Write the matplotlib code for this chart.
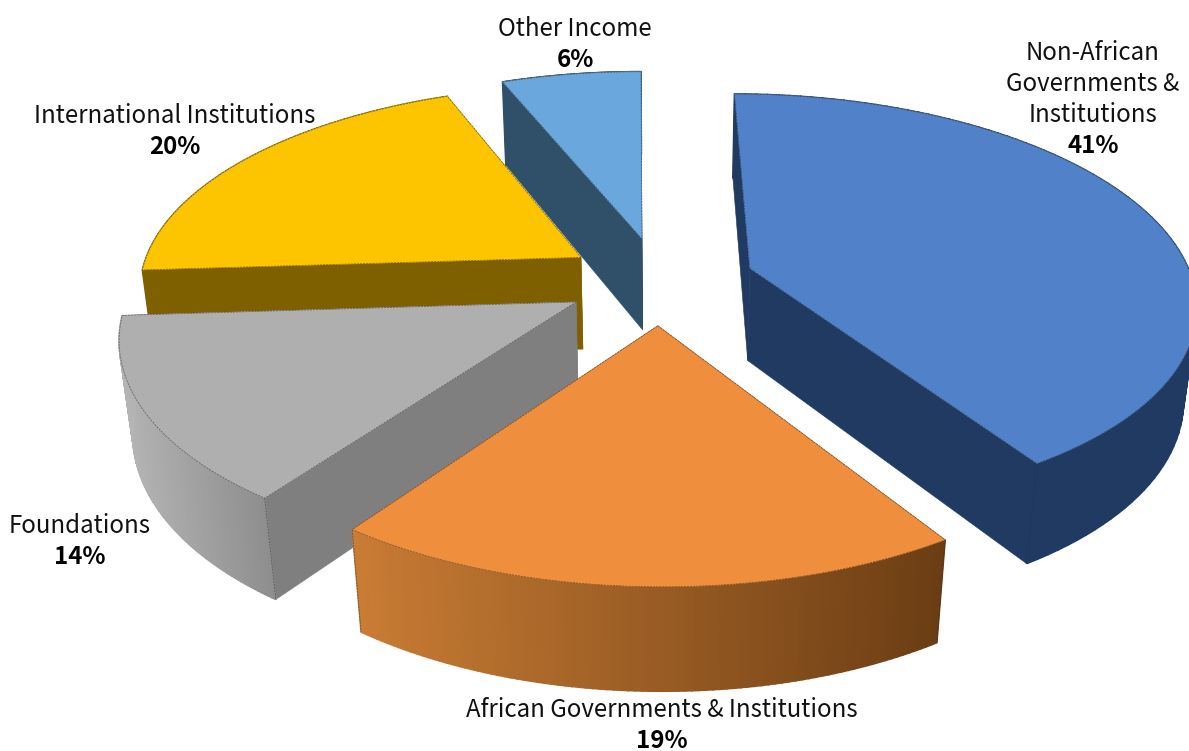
import numpy as np
import matplotlib
matplotlib.use("Agg")
import matplotlib.pyplot as plt
from matplotlib.colors import to_rgb
from matplotlib.patches import Polygon

plt.rcParams['font.family'] = ['Noto Sans CJK SC', 'DejaVu Sans']

# Funding shares, clockwise from twelve o'clock
categories = ["Non-African\nGovernments &\nInstitutions",
              "African Governments & Institutions",
              "Foundations",
              "International Institutions",
              "Other Income"]
shares = [41, 19, 14, 20, 6]

top_colors = ["#5182c9", "#ef8f3e", "#afafaf", "#fdc500", "#6aa7dc"]
face_colors = ["#203a62", "#7a4a1c", "#7f7f7f", "#7f6000", "#2f5068"]
arc_left = ["#203a62", "#c97c34", "#b4b4b4", "#7f6000", "#2f5068"]
arc_right = ["#203a62", "#6b3d14", "#8e8e8e", "#7f6000", "#2f5068"]
label_xy = [(1093, 84), (662, 710), (80, 526), (175, 116), (575, 29)]
draw_order = [4, 3, 2, 1, 0]

# Perspective camera for the tilted, exploded pie
CX, CY = 660.0, 280.5
SCALE = 442.5
TILT = 0.463
PERSP = 0.155
SKEW = -4.0
DROP = 95.0
SHRINK = 0.025
EXPLODE = 0.214
LINE_SPACING = 31


def project(x, y, z):
    """Map pie coordinates to the canvas; z = 0 is the top, z = 1 the bottom."""
    w = 1 + PERSP * y + SHRINK * z
    return CX + (SCALE * x + SKEW * y) / w, CY + (-SCALE * TILT * y + DROP * z) / w


def blend(c0, c1, t):
    a, b = np.array(to_rgb(c0)), np.array(to_rgb(c1))
    return tuple(a + (b - a) * t)


fig = plt.figure(figsize=(11.89, 7.51), dpi=100)
ax = fig.add_axes([0, 0, 1, 1])
ax.set_xlim(0, 1189)
ax.set_ylim(751, 0)
ax.axis("off")

edges = np.radians(np.concatenate([[0], np.cumsum(shares) / np.sum(shares) * 360]))
outline = dict(color="#303030", lw=0.6, ls=(0, (2.5, 1.2)), alpha=0.55)


def fill(points, color, z, lw=0.4):
    ax.add_patch(Polygon(points, closed=True, facecolor=color, edgecolor=color,
                         lw=lw, zorder=z))


z = 1
for i in draw_order:
    a0, a1 = edges[i], edges[i + 1]
    mid = (a0 + a1) / 2
    ox, oy = EXPLODE * np.sin(mid), EXPLODE * np.cos(mid)
    thetas = np.linspace(a0, a1, 90)
    rx = ox + np.sin(thetas)
    ry = oy + np.cos(thetas)
    top = np.column_stack(project(rx, ry, 0))
    bot = np.column_stack(project(rx, ry, 1))
    apex_t = np.array(project(ox, oy, 0))
    apex_b = np.array(project(ox, oy, 1))

    xmin, xmax = top[:, 0].min(), top[:, 0].max()

    def rim(is_part):
        global z
        for k in range(len(thetas) - 1):
            tm = (thetas[k] + thetas[k + 1]) / 2
            if is_part(tm):
                t = ((top[k, 0] + top[k + 1, 0]) / 2 - xmin) / max(xmax - xmin, 1)
                fill([top[k], top[k + 1], bot[k + 1], bot[k]],
                     blend(arc_left[i], arc_right[i], t), z, lw=1.2)
                z += 0.01

    # Rear part of the rim, then the two cut faces, then the front of the rim
    rim(lambda a: np.cos(a) > 0)
    z += 1
    fill([apex_t, top[-1], bot[-1], apex_b], face_colors[i], z)
    fill([apex_t, top[0], bot[0], apex_b], face_colors[i], z + 0.1)
    z += 1
    rim(lambda a: np.cos(a) <= 0)
    z += 1

    # Dashed corner lines where a cut face meets the front of the rim
    for k in (0, -1):
        if np.cos(thetas[k]) < -0.3:
            ax.plot([top[k, 0], bot[k, 0]], [top[k, 1], bot[k, 1]], zorder=z, **outline)
    z += 1
    fill(np.vstack([apex_t, top]), top_colors[i], z)
    z += 1

    ring = np.vstack([apex_t, top, apex_t])
    ax.plot(ring[:, 0], ring[:, 1], zorder=z, **outline)
    z += 1

for name, value, (lx, ly) in zip(categories, shares, label_xy):
    lines = name.split("\n")
    for n, line in enumerate(lines):
        row = ly + (n - (len(lines) - 1) / 2) * LINE_SPACING
        ax.text(lx, row, line, ha="center", va="center", fontsize=17.3,
                color="#111111", zorder=z)
    ax.text(lx, ly + (len(lines) + 1) / 2 * LINE_SPACING, f"{value}%", ha="center",
            va="center", fontsize=17.3, fontweight="bold", color="#000000", zorder=z)

fig.savefig("out.png", dpi=100, facecolor="white")
